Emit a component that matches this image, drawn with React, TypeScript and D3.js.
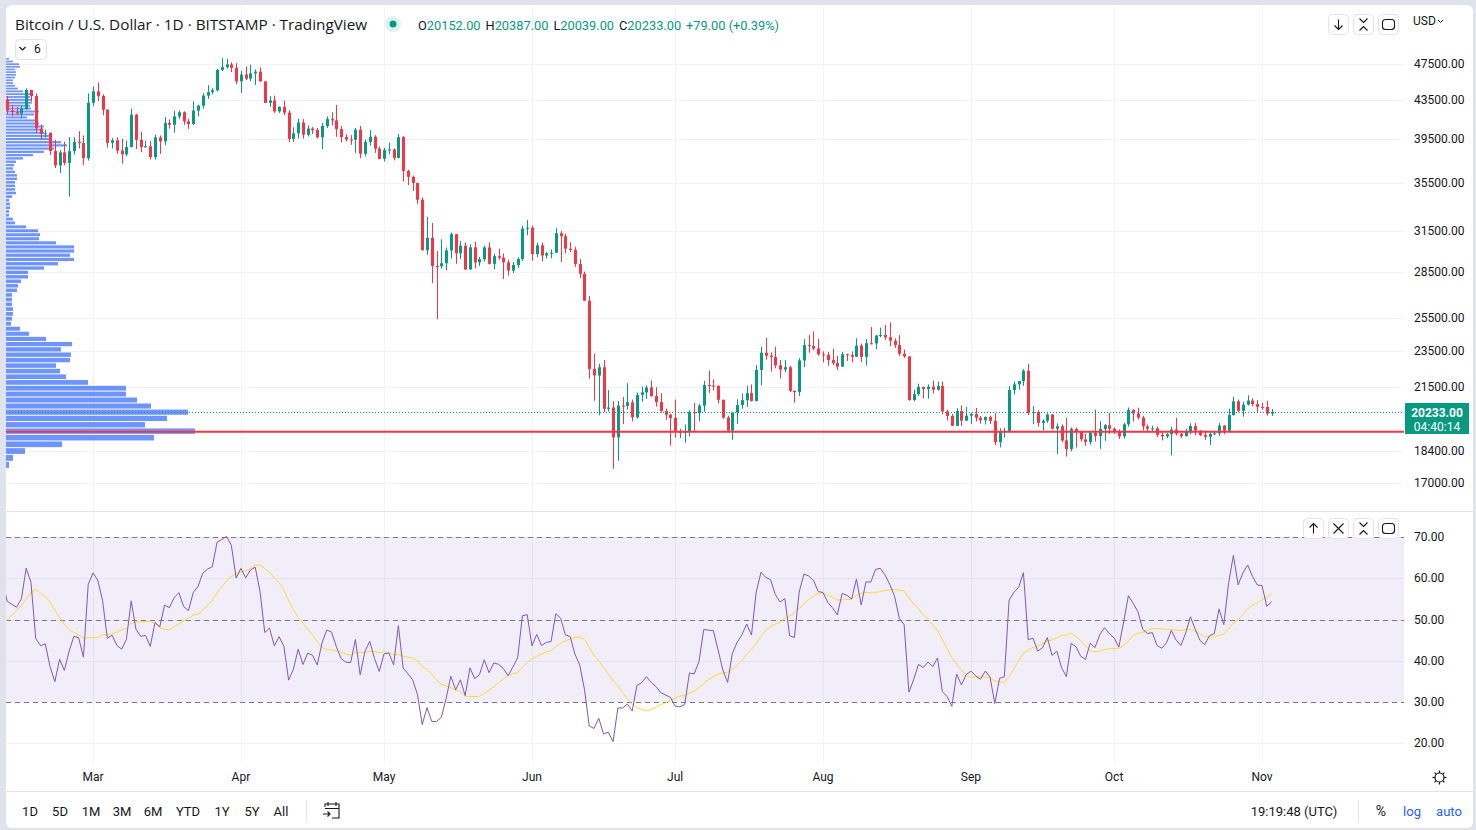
import React, { useEffect, useRef } from 'react';
import * as d3 from 'd3';

const WIDTH = 1476;
const HEIGHT = 830;
const FONT = "Roboto, 'Noto Sans', 'DejaVu Sans', sans-serif";
const TITLE_FONT = "'Open Sans', Roboto, sans-serif";
const UP = '#089981';
const DOWN = '#f23645';
const TEXT = '#131722';
const GRID = '#f0f3fa';
const BORDER = '#e0e3eb';

const symbolTitle = 'Bitcoin / U.S. Dollar · 1D · BITSTAMP · TradingView';
const firstCandleDay = new Date(Date.UTC(2022, 1, 10));

// daily closes 1 Dec 2021 .. 9 Feb 2022, only used to warm up the RSI
const priorCloses = [
  57230, 56510, 53600, 49150, 49400, 50580, 50490, 50570, 47560, 47130, 49390, 50060, 46700, 48350, 48870, 47630,
  46190, 46830, 46680, 46900, 48920, 48600, 50800, 50430, 50800, 50690, 50700, 47540, 46460, 47130, 46210,
  47730, 47310, 46430, 45830, 43430, 43080, 41550, 41670, 41860, 41820, 42740, 43920, 42590, 43100, 43180, 43110,
  42250, 42370, 41740, 40680, 36470, 35070, 36280, 36680, 36970, 36840, 37170, 37730, 38180, 37920, 38470,
  38720, 36900, 37320, 41570, 41400, 42420, 43850, 44050, 44390,
];

// [open, high, low, close], one per day
const febCandles = [
  [44390, 45820, 43200, 43520], [43520, 43920, 42000, 42390], [42390, 42990, 41760, 42210], [42210, 42740, 41870, 42070],
  [42070, 42850, 41570, 42550], [42550, 44750, 42440, 44570], [44570, 44580, 43330, 43900], [43900, 44200, 40080, 40560],
  [40560, 40960, 39450, 40020], [40020, 40450, 39660, 40120], [40120, 40160, 38000, 38380], [38380, 39450, 36800, 37030],
  [37030, 38460, 36350, 38240], [38240, 39260, 37050, 37270], [37270, 39700, 34320, 38360], [38360, 39700, 38050, 39250],
  [39250, 40290, 38620, 39140], [39140, 39860, 37060, 37710], [37710, 44200, 37480, 43190],
];
const marCandles = [
  [43190, 44950, 42830, 44420], [44420, 45400, 43380, 43920], [43920, 44100, 41880, 42460], [42460, 42520, 38700, 39150],
  [39150, 39610, 38600, 39400], [39400, 39690, 38110, 38420], [38420, 39550, 37200, 38060], [38060, 39360, 37870, 38750],
  [38750, 42580, 38700, 41950], [41950, 42050, 38550, 39440], [39440, 40240, 38250, 38740], [38740, 39360, 38680, 38820],
  [38820, 39300, 37580, 37800], [37800, 39940, 37580, 39670], [39670, 39870, 38110, 39290], [39290, 41700, 38920, 41120],
  [41120, 41470, 40530, 40920], [40920, 42330, 40150, 41770], [41770, 42400, 41520, 42200], [42200, 42300, 40920, 41270],
  [41270, 41530, 40500, 41000], [41000, 43330, 40900, 42370], [42370, 42980, 41750, 42880], [42880, 44200, 42570, 43960],
  [43960, 45100, 43600, 44330], [44330, 44800, 44100, 44530], [44530, 46930, 44410, 46830], [46830, 48190, 46680, 47130],
  [47130, 48100, 46960, 47450], [47450, 47700, 46580, 47060], [47060, 47600, 45200, 45530],
];
const aprCandles = [
  [45530, 46700, 44250, 46290], [46290, 47200, 45660, 45830], [45830, 47430, 45550, 46420], [46420, 46880, 45130, 46620],
  [46620, 47100, 45470, 45520], [45520, 45520, 43150, 43180], [43180, 43900, 42750, 43440], [43440, 43960, 42140, 42280],
  [42280, 42800, 42130, 42770], [42770, 43430, 41900, 42160], [42160, 42420, 39220, 39530], [39530, 40690, 39250, 40080],
  [40080, 41540, 39570, 41150], [41150, 41500, 39560, 39940], [39940, 40860, 39770, 40550], [40550, 40700, 40000, 40400],
  [40400, 40600, 39560, 39690], [39690, 41100, 38540, 40800], [40800, 41760, 40590, 41500], [41500, 42200, 40860, 41370],
  [41370, 42960, 39740, 40490], [40490, 40800, 39200, 39710], [39710, 39980, 39300, 39470], [39470, 39900, 38960, 39450],
  [39450, 40600, 38200, 40430], [40430, 40800, 37700, 38120], [38120, 39470, 37880, 39240], [39240, 40370, 38880, 39740],
  [39740, 39900, 38200, 38600], [38600, 38800, 37600, 37640],
];
const mayCandles = [
  [37640, 38680, 37400, 38480], [38480, 39150, 38080, 38520], [38520, 38630, 37500, 37730], [37730, 40000, 37680, 39700],
  [39700, 39800, 35600, 36550], [36550, 36650, 35300, 36020], [36020, 36130, 34780, 35480], [35480, 35500, 33710, 34050],
  [34050, 34240, 30050, 30090], [30090, 32650, 29750, 31010], [31010, 32170, 27750, 28950], [28950, 30030, 25400, 28930],
  [28930, 30900, 28760, 29140], [29140, 30290, 28650, 30080], [30080, 31420, 29480, 31300], [31300, 31300, 29100, 29860],
  [29860, 30770, 29440, 30420], [30420, 30660, 28650, 28700], [28700, 30530, 28680, 30300], [30300, 30730, 28780, 29200],
  [29200, 29600, 28950, 29430], [29430, 30420, 29270, 30290], [30290, 30670, 29050, 29100], [29100, 29820, 28700, 29650],
  [29650, 30200, 29380, 29540], [29540, 29840, 28030, 29200], [29200, 29380, 28270, 28620], [28620, 29240, 28450, 29020],
  [29020, 29560, 28800, 29450], [29450, 31950, 29300, 31730], [31730, 32400, 31210, 31790],
];
const junCandles = [
  [31790, 31960, 29320, 29800], [29800, 30650, 29580, 30450], [30450, 30650, 29280, 29700], [29700, 29950, 29480, 29860],
  [29860, 30150, 29500, 29900], [29900, 31760, 29880, 31370], [31370, 31540, 29230, 31130], [31130, 31330, 29850, 30200],
  [30200, 30680, 29950, 30110], [30110, 30350, 28880, 29080], [29080, 29440, 28100, 28400], [28400, 28550, 26580, 26580],
  [26580, 26900, 21950, 22490], [22490, 23350, 20800, 22130], [22130, 22760, 20070, 22580], [22580, 22990, 20230, 20390],
  [20390, 21350, 20250, 20460], [20460, 20780, 17600, 19010], [19010, 20790, 17950, 20550], [20550, 20990, 19640, 20540],
  [20540, 21720, 20350, 20720], [20720, 20860, 19770, 19970], [19970, 21220, 19900, 21100], [21100, 21540, 20750, 21230],
  [21230, 21600, 20900, 21490], [21490, 21860, 21000, 21040], [21040, 21500, 20500, 20730], [20730, 21190, 20200, 20280],
  [20280, 20400, 19850, 20100], [20100, 20150, 18630, 19940],
];
const julCandles = [
  [19940, 20860, 19000, 19290], [19290, 19420, 18980, 19240], [19240, 19620, 18770, 19300], [19300, 20320, 19050, 20230],
  [20230, 20690, 19300, 20180], [20180, 20630, 19780, 20550], [20550, 21840, 20250, 21620], [21620, 22400, 21200, 21590],
  [21590, 21920, 21330, 21580], [21580, 21590, 20660, 20850], [20850, 20860, 19890, 19960], [19960, 20050, 19250, 19330],
  [19330, 20240, 18900, 20210], [20210, 20870, 19650, 20580], [20580, 21170, 20400, 20830], [20830, 21580, 20480, 21190],
  [21190, 21650, 20760, 20790], [20790, 22700, 20760, 22430], [22430, 23750, 21600, 23400], [23400, 24270, 23000, 23230],
  [23230, 23420, 22350, 23160], [23160, 23750, 22520, 22690], [22690, 22990, 21960, 22450], [22450, 22990, 22300, 22580],
  [22580, 22660, 21250, 21310], [21310, 21330, 20700, 21240], [21240, 23090, 21050, 22960], [22960, 24200, 22590, 23840],
  [23840, 24450, 23400, 23780], [23780, 24650, 23530, 23640], [23640, 24200, 23230, 23300],
];
const augCandles = [
  [23300, 23480, 22850, 23270], [23270, 23450, 22660, 22980], [22980, 23630, 22700, 22820], [22820, 23220, 22430, 22620],
  [22620, 23450, 22590, 23310], [23310, 23340, 22930, 23260], [23260, 23470, 22860, 23170], [23170, 24240, 23150, 23810],
  [23810, 23930, 22870, 23160], [23160, 24200, 22670, 23950], [23950, 24920, 23880, 23940], [23940, 24450, 23590, 24400],
  [24400, 24880, 24300, 24440], [24440, 25050, 24150, 24300], [24300, 25210, 23790, 24100], [24100, 24240, 23680, 23850],
  [23850, 24450, 23200, 23340], [23340, 23580, 23100, 23190], [23190, 23200, 20800, 20830], [20830, 21370, 20770, 21140],
  [21140, 21690, 21050, 21520], [21520, 21520, 20910, 21400], [21400, 21650, 20900, 21530], [21530, 21850, 21170, 21370],
  [21370, 21800, 21320, 21560], [21560, 21800, 20120, 20260], [20260, 20340, 19810, 20040], [20040, 20140, 19560, 19560],
  [19560, 20420, 19560, 20280], [20280, 20560, 19550, 19810], [19810, 20480, 19790, 20050],
];
const sepCandles = [
  [20050, 20200, 19650, 20130], [20130, 20440, 19770, 19950], [19950, 20030, 19660, 19830], [19830, 20010, 19620, 19990],
  [19990, 20050, 19650, 19800], [19800, 20170, 18660, 18790], [18790, 19440, 18550, 19290], [19290, 19460, 19010, 19320],
  [19320, 21550, 19300, 21360], [21360, 21800, 21120, 21650], [21650, 21840, 21380, 21830], [21830, 22480, 21570, 22390],
  [22390, 22770, 20080, 20180], [20180, 20530, 19630, 20230], [20230, 20330, 19520, 19700], [19700, 19880, 19330, 19800],
  [19800, 20170, 19700, 20110], [20110, 20120, 19380, 19420], [19420, 19680, 18250, 19540], [19540, 19630, 18780, 18870],
  [18870, 19950, 18140, 18480], [18480, 19480, 18380, 19410], [19410, 19480, 18550, 19290], [19290, 19310, 18820, 18920],
  [18920, 19190, 18630, 18800], [18800, 19310, 18680, 19220], [19220, 20350, 18830, 19080], [19080, 19780, 18480, 19410],
  [19410, 19640, 18850, 19590], [19590, 20180, 19180, 19420],
];
const octCandles = [
  [19420, 19480, 19170, 19310], [19310, 19390, 18930, 19060], [19060, 19700, 18960, 19630], [19630, 20460, 19520, 20340],
  [20340, 20360, 19760, 20160], [20160, 20450, 19860, 19960], [19960, 20050, 19340, 19530], [19530, 19620, 19250, 19420],
  [19420, 19560, 19320, 19440], [19440, 19520, 19030, 19130], [19130, 19260, 18870, 19060], [19060, 19220, 18980, 19160],
  [19160, 19510, 18190, 19380], [19380, 19950, 19100, 19180], [19180, 19220, 18980, 19070], [19070, 19410, 19060, 19270],
  [19270, 19680, 19160, 19550], [19550, 19700, 19110, 19330], [19330, 19350, 19070, 19120], [19120, 19340, 18900, 19040],
  [19040, 19250, 18660, 19170], [19170, 19260, 19120, 19200], [19200, 19700, 19080, 19570], [19570, 19600, 19160, 19330],
  [19330, 20400, 19260, 20080], [20080, 21000, 20060, 20770], [20770, 20860, 20220, 20290], [20290, 20750, 20000, 20600],
  [20600, 21080, 20560, 20810], [20810, 20930, 20530, 20630], [20630, 20830, 20240, 20490],
];
const novCandles = [
  [20490, 20690, 20340, 20480], [20480, 20800, 20050, 20154], [20152, 20387, 20039, 20233],
];

const priceTicks = [47500, 43500, 39500, 35500, 31500, 28500, 25500, 23500, 21500, 18400, 17000];
const rsiTicks = [70, 60, 50, 40, 30, 20];
const rsiBandLines = [70, 50, 30];
const monthStarts = ['2022-03-01', '2022-04-01', '2022-05-01', '2022-06-01', '2022-07-01', '2022-08-01', '2022-09-01', '2022-10-01', '2022-11-01'];
const rangeButtons = ['1D', '5D', '1M', '3M', '6M', 'YTD', '1Y', '5Y', 'All'];

// visible range volume profile, 100 equal price rows, top row first
const vpRowVolumes = [
  3, 7, 13, 14, 9, 10, 10, 9, 7, 7,
  9, 12, 17, 24, 24, 26, 26, 24, 25, 33,
  28, 21, 30, 33, 38, 34, 38, 43, 46, 55,
  61, 48, 38, 27, 17, 10, 8, 7, 9, 11,
  11, 9, 9, 9, 10, 6, 3, 4, 4, 3,
  3, 7, 9, 20, 32, 34, 33, 50, 68, 68,
  64, 68, 52, 38, 22, 22, 15, 12, 11, 6,
  6, 6, 7, 7, 6, 5, 14, 23, 40, 66,
  55, 65, 64, 50, 54, 60, 82, 120, 120, 131,
  145, 182, 161, 139, 189, 148, 56, 19, 7, 3,
];

function rsiOf(closes: number[], n: number) {
  const out: number[] = closes.map(() => NaN);
  let g = 0;
  let l = 0;
  for (let i = 1; i < closes.length; i++) {
    const ch = closes[i] - closes[i - 1];
    const up = Math.max(ch, 0);
    const dn = Math.max(-ch, 0);
    if (i <= n) {
      g += up / n;
      l += dn / n;
      if (i < n) continue;
    } else {
      g = (g * (n - 1) + up) / n;
      l = (l * (n - 1) + dn) / n;
    }
    out[i] = l === 0 ? 100 : 100 - 100 / (1 + g / l);
  }
  return out;
}

function smaOf(values: number[], n: number) {
  return values.map((_, i) => {
    if (i < n - 1) return NaN;
    const win = values.slice(i - n + 1, i + 1);
    return win.some((v) => isNaN(v)) ? NaN : d3.mean(win) as number;
  });
}

const App = () => {
  const ref = useRef<SVGSVGElement>(null);

  useEffect(() => {
    const svg = d3.select(ref.current);
    svg.selectAll('*').remove();

    const candles = [...febCandles, ...marCandles, ...aprCandles, ...mayCandles, ...junCandles,
      ...julCandles, ...augCandles, ...sepCandles, ...octCandles, ...novCandles];
    const data = candles.map((c, i) => ({
      date: d3.utcDay.offset(firstCandleDay, i), o: c[0], h: c[1], l: c[2], c: c[3],
    }));

    const left = 6;
    const plotRight = 1404;
    const mainTop = 5;
    const mainBottom = 511;
    const rsiBottom = 763;

    const x = d3.scaleUtc()
      .domain([new Date(Date.UTC(2022, 2, 1)), new Date(Date.UTC(2022, 10, 1))])
      .range([93, 1262]);
    const y = d3.scaleLog().domain([17000, 47500]).range([483, 64]);
    const yR = d3.scaleLinear().domain([20, 70]).range([743.25, 537]);

    // frame
    svg.append('rect').attr('width', WIDTH).attr('height', HEIGHT).attr('fill', BORDER);
    svg.append('rect').attr('x', left).attr('y', mainTop).attr('width', 1467).attr('height', 823)
      .attr('rx', 6).attr('fill', '#ffffff');

    const defs = svg.append('defs');
    defs.append('clipPath').attr('id', 'mainClip').append('rect')
      .attr('x', left).attr('y', mainTop).attr('width', plotRight - left).attr('height', mainBottom - mainTop);
    defs.append('clipPath').attr('id', 'rsiClip').append('rect')
      .attr('x', left).attr('y', mainBottom + 1).attr('width', plotRight - left).attr('height', rsiBottom - mainBottom);

    // grid
    const grid = svg.append('g').attr('stroke', GRID).attr('stroke-width', 1);
    priceTicks.forEach((p) => {
      grid.append('line').attr('x1', left).attr('x2', plotRight)
        .attr('y1', Math.round(y(p)) + 0.5).attr('y2', Math.round(y(p)) + 0.5);
    });
    rsiTicks.forEach((v) => {
      grid.append('line').attr('x1', left).attr('x2', plotRight)
        .attr('y1', Math.round(yR(v)) + 0.5).attr('y2', Math.round(yR(v)) + 0.5);
    });
    monthStarts.forEach((m) => {
      const mx = Math.round(x(new Date(m + 'T00:00:00Z'))) + 0.5;
      grid.append('line').attr('x1', mx).attr('x2', mx).attr('y1', mainTop).attr('y2', rsiBottom);
    });

    // pane separators
    svg.append('line').attr('x1', left).attr('x2', 1473).attr('y1', mainBottom + 0.5).attr('y2', mainBottom + 0.5)
      .attr('stroke', BORDER);
    svg.append('line').attr('x1', left).attr('x2', 1473).attr('y1', 791.5).attr('y2', 791.5)
      .attr('stroke', BORDER);

    // volume profile
    const main = svg.append('g').attr('clip-path', 'url(#mainClip)');
    const vpLow = d3.min(data, (d) => d.l) as number;
    const vpHigh = d3.max(data, (d) => d.h) as number;
    const rows = vpRowVolumes.length;
    const step = (vpHigh - vpLow) / rows;
    const vpWidth = d3.scaleLinear().domain([0, d3.max(vpRowVolumes) as number]).range([0, 189]);
    const vpRows = vpRowVolumes.map((v, i) => {
      const k = rows - 1 - i;
      return { v, lo: vpLow + k * step, hi: vpLow + (k + 1) * step };
    });
    main.append('g').selectAll('rect').data(vpRows).enter().append('rect')
      .attr('x', left)
      .attr('y', (d) => y(d.hi))
      .attr('width', (d) => vpWidth(d.v))
      .attr('height', (d) => Math.max(1, y(d.lo) - y(d.hi) - 1))
      .attr('fill', '#2962ff')
      .attr('fill-opacity', 0.68);

    // candles
    const cg = main.append('g');
    data.forEach((d) => {
      const cx = Math.round(x(d.date));
      const col = d.c >= d.o ? UP : DOWN;
      cg.append('line').attr('x1', cx + 0.5).attr('x2', cx + 0.5)
        .attr('y1', y(d.h)).attr('y2', y(d.l)).attr('stroke', col).attr('stroke-width', 1);
      const top = y(Math.max(d.o, d.c));
      const bot = y(Math.min(d.o, d.c));
      cg.append('rect').attr('x', cx - 1).attr('width', 3)
        .attr('y', top).attr('height', Math.max(1, bot - top)).attr('fill', col);
    });

    // point of control
    const poc = vpRows[d3.maxIndex(vpRows, (d) => d.v)];
    const pocY = y((poc.lo + poc.hi) / 2);
    main.append('line').attr('x1', left).attr('x2', plotRight).attr('y1', pocY).attr('y2', pocY)
      .attr('stroke', DOWN).attr('stroke-width', 2);

    // last price line
    const last = data[data.length - 1];
    const prev = data[data.length - 2];
    const lastY = Math.round(y(last.c)) + 0.5;
    main.append('line').attr('x1', left).attr('x2', plotRight).attr('y1', lastY).attr('y2', lastY)
      .attr('stroke', UP).attr('stroke-width', 1).attr('stroke-dasharray', '1,2');

    // price axis
    const axisText = svg.append('g').attr('font-family', FONT).attr('font-size', 12).attr('fill', TEXT);
    priceTicks.forEach((p) => {
      axisText.append('text').attr('x', 1414).attr('y', y(p) + 4).text(d3.format('.2f')(p));
    });
    rsiTicks.forEach((v) => {
      axisText.append('text').attr('x', 1414).attr('y', yR(v) + 4).text(d3.format('.2f')(v));
    });
    svg.append('rect').attr('x', 1405).attr('y', lastY - 9.5).attr('width', 64).attr('height', 31)
      .attr('fill', UP);
    svg.append('text').attr('x', 1437).attr('y', lastY + 4).attr('text-anchor', 'middle')
      .attr('font-family', FONT).attr('font-size', 12).attr('font-weight', 700).attr('fill', '#fff')
      .text(d3.format('.2f')(last.c));
    svg.append('text').attr('x', 1437).attr('y', lastY + 18).attr('text-anchor', 'middle')
      .attr('font-family', FONT).attr('font-size', 12).attr('fill', '#fff').text('04:40:14');

    // RSI pane
    const rsiG = svg.append('g').attr('clip-path', 'url(#rsiClip)');
    rsiG.append('rect').attr('x', left).attr('width', plotRight - left)
      .attr('y', yR(70)).attr('height', yR(30) - yR(70)).attr('fill', 'rgba(126,87,194,0.1)');
    rsiBandLines.forEach((v) => {
      rsiG.append('line').attr('x1', left).attr('x2', plotRight)
        .attr('y1', Math.round(yR(v)) + 0.5).attr('y2', Math.round(yR(v)) + 0.5)
        .attr('stroke', '#787b86').attr('stroke-dasharray', '5,4');
    });
    const allCloses = [...priorCloses, ...data.map((d) => d.c)];
    const rsiAll = rsiOf(allCloses, 14);
    const maAll = smaOf(rsiAll, 14);
    const off = priorCloses.length;
    const rsiPts = data.map((d, i) => ({ date: d.date, r: rsiAll[i + off], m: maAll[i + off] }));
    rsiG.append('path').datum(rsiPts)
      .attr('d', d3.line<any>().x((d) => x(d.date)).y((d) => yR(d.m)))
      .attr('fill', 'none').attr('stroke', '#fdd835').attr('stroke-width', 1);
    rsiG.append('path').datum(rsiPts)
      .attr('d', d3.line<any>().x((d) => x(d.date)).y((d) => yR(d.r)))
      .attr('fill', 'none').attr('stroke', '#7e57c2').attr('stroke-width', 1);

    // time axis
    monthStarts.forEach((m) => {
      const dt = new Date(m + 'T00:00:00Z');
      axisText.append('text').attr('x', x(dt)).attr('y', 781).attr('text-anchor', 'middle')
        .text(d3.utcFormat('%b')(dt));
    });
    // settings gear
    const gear = svg.append('g').attr('stroke', TEXT).attr('stroke-width', 1.2).attr('fill', 'none');
    gear.append('circle').attr('cx', 1439.5).attr('cy', 777.5).attr('r', 4.5);
    d3.range(8).forEach((i) => {
      const a = (i * Math.PI) / 4;
      gear.append('line')
        .attr('x1', 1439.5 + Math.cos(a) * 4.5).attr('y1', 777.5 + Math.sin(a) * 4.5)
        .attr('x2', 1439.5 + Math.cos(a) * 7).attr('y2', 777.5 + Math.sin(a) * 7);
    });

    // header
    svg.append('text').attr('x', 15).attr('y', 30).attr('font-family', TITLE_FONT).attr('font-size', 15.3)
      .attr('fill', TEXT).text(symbolTitle);
    svg.append('circle').attr('cx', 393).attr('cy', 24).attr('r', 8).attr('fill', 'rgba(8,153,129,0.13)');
    svg.append('circle').attr('cx', 393).attr('cy', 24).attr('r', 3.5).attr('fill', UP);
    const legend = svg.append('text').attr('x', 418).attr('y', 30).attr('font-family', FONT)
      .attr('font-size', 12.8).attr('fill', UP);
    const fmt = d3.format('.2f');
    [['O', last.o], ['H', last.h], ['L', last.l], ['C', last.c]].forEach(([k, v], i) => {
      legend.append('tspan').attr('dx', i ? 5 : 0).attr('fill', TEXT).text(k as string);
      legend.append('tspan').attr('fill', UP).text(fmt(v as number));
    });
    const chg = last.c - prev.c;
    legend.append('tspan').attr('dx', 5).text(`${chg >= 0 ? '+' : ''}${fmt(chg)} (${chg >= 0 ? '+' : ''}${fmt((chg / prev.c) * 100)}%)`);

    const btn = (bx: number, by: number, w: number, h: number) =>
      svg.append('rect').attr('x', bx + 0.5).attr('y', by + 0.5).attr('width', w).attr('height', h).attr('rx', 4)
        .attr('fill', '#fff').attr('stroke', BORDER);
    btn(15, 39, 31, 20);
    btn(1328, 14, 20, 20); btn(1353, 14, 20, 20); btn(1378, 14, 20, 20);
    btn(1303, 518, 20, 20); btn(1328, 518, 20, 20); btn(1353, 518, 20, 20); btn(1378, 518, 20, 20);

    svg.append('path').attr('d', 'M19.5 47 L22.5 50 L25.5 47').attr('fill', 'none').attr('stroke', TEXT).attr('stroke-width', 1.2);
    svg.append('text').attr('x', 34).attr('y', 53).attr('font-family', FONT).attr('font-size', 12).attr('fill', TEXT).text('6');

    const icons = svg.append('g').attr('fill', 'none').attr('stroke', TEXT).attr('stroke-width', 1.1);
    const arrow = (cx: number, cy: number, dir: number) => {
      icons.append('path').attr('d', `M${cx} ${cy - 5 * dir} L${cx} ${cy + 5 * dir} M${cx - 4} ${cy + dir} L${cx} ${cy + 5 * dir} L${cx + 4} ${cy + dir}`);
    };
    const collapse = (cx: number, cy: number) => {
      icons.append('path').attr('d', `M${cx - 4} ${cy - 6} L${cx} ${cy - 2} L${cx + 4} ${cy - 6} M${cx - 4} ${cy + 6} L${cx} ${cy + 2} L${cx + 4} ${cy + 6}`);
    };
    const maxi = (cx: number, cy: number) => {
      icons.append('rect').attr('x', cx - 6).attr('y', cy - 5).attr('width', 12).attr('height', 10).attr('rx', 3);
    };
    const cross = (cx: number, cy: number) => {
      icons.append('path').attr('d', `M${cx - 5} ${cy - 5} L${cx + 5} ${cy + 5} M${cx + 5} ${cy - 5} L${cx - 5} ${cy + 5}`);
    };
    arrow(1338.5, 24.5, 1); collapse(1363.5, 24.5); maxi(1388.5, 24.5);
    arrow(1313.5, 528.5, -1); cross(1338.5, 528.5); collapse(1363.5, 528.5); maxi(1388.5, 528.5);
    svg.append('text').attr('x', 1413).attr('y', 25).attr('font-family', FONT).attr('font-size', 12)
      .attr('fill', TEXT).text('USD');
    svg.append('path').attr('d', 'M1438 20 L1440.5 22.5 L1443 20').attr('fill', 'none').attr('stroke', TEXT);

    // bottom toolbar
    const tb = svg.append('g').attr('font-family', FONT).attr('font-size', 13).attr('fill', TEXT)
      .attr('text-anchor', 'middle');
    const tbX = [30, 60, 91, 122, 153, 188, 222, 252, 281];
    rangeButtons.forEach((t, i) => tb.append('text').attr('x', tbX[i]).attr('y', 816).text(t));
    svg.append('line').attr('x1', 306.5).attr('x2', 306.5).attr('y1', 800).attr('y2', 822).attr('stroke', BORDER);
    svg.append('line').attr('x1', 1358.5).attr('x2', 1358.5).attr('y1', 800).attr('y2', 822).attr('stroke', BORDER);
    const cal = svg.append('g').attr('fill', 'none').attr('stroke', TEXT).attr('stroke-width', 1.1);
    cal.append('path').attr('d', 'M325 807 L325 804 L339 804 L339 818 L332 818 M325 808.5 L339 808.5 M328 802 L328 806 M336 802 L336 806');
    cal.append('path').attr('d', 'M323 814 L330 814 M327.5 811.5 L330 814 L327.5 816.5');
    tb.append('text').attr('x', 1294).attr('y', 816).text('19:19:48 (UTC)');
    tb.append('text').attr('x', 1381).attr('y', 816).attr('font-size', 14).text('%');
    tb.append('text').attr('x', 1412).attr('y', 816).attr('fill', '#2962ff').text('log');
    tb.append('text').attr('x', 1449).attr('y', 816).attr('fill', '#2962ff').text('auto');
  }, []);

  return (
    <svg ref={ref} width={WIDTH} height={HEIGHT}
      style={{ position: 'absolute', left: 0, top: 0, display: 'block' }} />
  );
};

export default App;
